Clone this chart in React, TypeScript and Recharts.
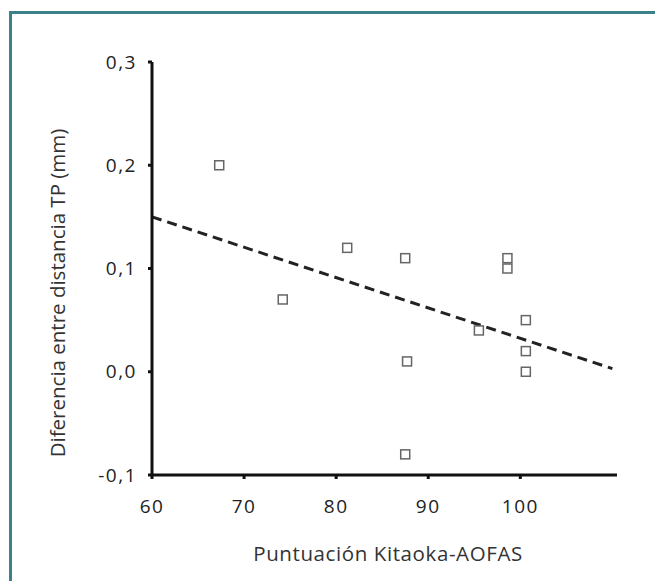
import { ScatterChart, Scatter, XAxis, YAxis, ReferenceLine } from 'recharts';

const kitaokaScore = [67.3, 74.2, 81.2, 87.5, 87.7, 87.5, 95.5, 98.6, 98.6, 100.6, 100.6, 100.6];
const tpDifference = [0.2, 0.07, 0.12, 0.11, 0.01, -0.08, 0.04, 0.11, 0.1, 0.05, 0.02, 0.0];
const xTicks = [60, 70, 80, 90, 100];
const yTicks = [-0.1, 0, 0.1, 0.2, 0.3];
const trendStart = { x: 60, y: 0.15 };
const trendEnd = { x: 110, y: 0.003 };

const points = kitaokaScore.map((x, i) => ({ x, y: tpDifference[i] }));

const FONT = '"Open Sans", sans-serif';

const SquareMark = (props: any) => {
  const { cx, cy } = props;
  if (cx == null || cy == null) return null;
  return <rect x={cx - 4.5} y={cy - 4.5} width={9} height={9} fill="#fff" stroke="#666" strokeWidth={1.5} />;
};

const YLabel = () => (
  <text x={65} y={293} transform="rotate(-90 65 293)" textAnchor="middle"
    fontFamily={FONT} fontSize={20.5} fill="#333">
    Diferencia entre distancia TP (mm)
  </text>
);

const XLabel = () => (
  <text x={388} y={561} textAnchor="middle" fontFamily={FONT} fontSize={20.5} letterSpacing={0.6} fill="#333">
    Puntuación Kitaoka-AOFAS
  </text>
);

const fmt = (v: number) => v.toFixed(1).replace('.', ',');

const tickStyle = { fontFamily: FONT, fontSize: 19, fill: '#222', letterSpacing: 1.5 };

export default function App() {
  return (
    <div style={{ position: 'absolute', left: 0, top: 0, width: 655, height: 581, background: '#fff' }}>
      <div style={{ position: 'absolute', left: 9, top: 11, right: 0, bottom: 0, borderTop: '3px solid #3a818a', borderLeft: '3px solid #3a818a' }} />
      <div style={{ position: 'absolute', left: 0, top: 0 }}>
        <ScatterChart width={655} height={581} margin={{ top: 62, right: 38, bottom: 76, left: 0 }}>
          <XAxis type="number" dataKey="x" domain={[60, 110.5]} ticks={xTicks} allowDataOverflow
            height={30} tickSize={4} tickMargin={21} stroke="#111" strokeWidth={3}
            tick={tickStyle} label={<XLabel />} />
          <YAxis type="number" dataKey="y" domain={[-0.1, 0.3]} ticks={yTicks} allowDataOverflow
            width={152} tickSize={4} tickMargin={11} stroke="#111" strokeWidth={3} tickFormatter={fmt}
            tick={tickStyle} label={<YLabel />} />
          <ReferenceLine segment={[trendStart, trendEnd]} stroke="#222" strokeWidth={3} strokeDasharray="10 6" ifOverflow="visible" />
          <Scatter data={points} shape={<SquareMark />} isAnimationActive={false} />
        </ScatterChart>
      </div>
    </div>
  );
}
